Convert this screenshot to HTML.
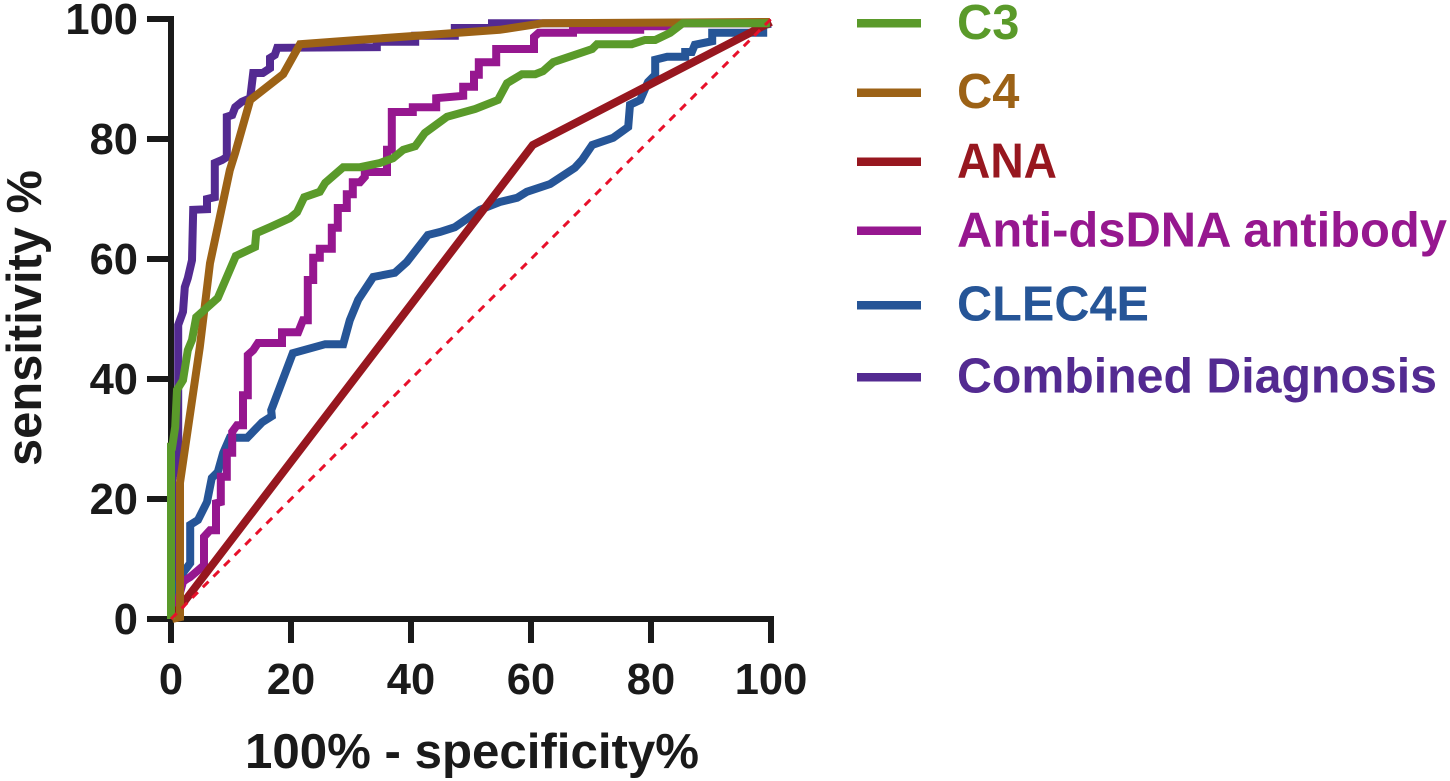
<!DOCTYPE html>
<html lang="en">
<head>
<meta charset="utf-8">
<title>ROC curves</title>
<style>
html,body{margin:0;padding:0;background:#fff;}
svg{display:block;}
text{font-family:"Liberation Sans",Arial,sans-serif;font-weight:bold;}
</style>
</head>
<body>
<svg id="chart" xmlns="http://www.w3.org/2000/svg" width="1450" height="781" viewBox="0 0 1450 781">
  <rect x="0" y="0" width="1450" height="781" fill="#fff"/>
  <g id="axis-layer"></g>
  <g id="series-layer"></g>
  <text x="472" y="768" font-size="49" text-anchor="middle" fill="#1a1a1a" textLength="454" lengthAdjust="spacingAndGlyphs">100% - specificity%</text>
  <text transform="translate(41 318) rotate(-90)" font-size="49" text-anchor="middle" fill="#1a1a1a" textLength="296" lengthAdjust="spacingAndGlyphs">sensitivity %</text>
  <g>
    <g>
      <rect x="857" y="19" width="64" height="8.5" fill="#5a9a2a"/>
      <text x="957" y="39" font-size="48.8" fill="#5a9a2a">C3</text>
    </g>
    <g>
      <rect x="857" y="88.5" width="64" height="8.5" fill="#9c6216"/>
      <text x="957" y="108" font-size="48.8" fill="#9c6216">C4</text>
    </g>
    <g>
      <rect x="857" y="157.5" width="64" height="8.5" fill="#97171f"/>
      <text x="957" y="177.500" font-size="48.8" fill="#97171f" textLength="100" lengthAdjust="spacingAndGlyphs">ANA</text>
    </g>
    <g>
      <rect x="857" y="226.500" width="64" height="8.5" fill="#96178f"/>
      <text x="957" y="246.500" font-size="48.8" fill="#96178f" textLength="490" lengthAdjust="spacingAndGlyphs">Anti-dsDNA antibody</text>
    </g>
    <g>
      <rect x="857" y="301" width="64" height="8.5" fill="#265597"/>
      <text x="957" y="320.500" font-size="48.8" fill="#265597" textLength="192" lengthAdjust="spacingAndGlyphs">CLEC4E</text>
    </g>
    <g>
      <rect x="857" y="373" width="64" height="8.5" fill="#532a91"/>
      <text x="957" y="392.500" font-size="48.8" fill="#532a91" textLength="480" lengthAdjust="spacingAndGlyphs">Combined Diagnosis</text>
    </g>
  </g>
</svg>
<script>
var xTicks = [0, 20, 40, 60, 80, 100];
var yTicks = [0, 20, 40, 60, 80, 100];

var combinedX = [0.2,0.2,1.2,1.2,2,2.3,2.8,3.5,3.7,6,6,7.3,7.3,8.5,9.3,9.3,10.2,10.7,11.8,13.2,13.7,15.3,16.5,16.5,17.3,17.7,34.3,34.3,40.7,40.7,47.3,47.3,53.5,53.5,100];
var combinedY = [0,23.2,27.7,49,51.2,55.3,56.8,59.8,68.2,68.3,70,70.3,76,76.5,77,83.7,84,85.3,86.2,86.8,91,91,91.8,93.5,94,95.2,95.3,96.2,96.2,97.2,97.2,98.5,98.5,99.3,99.3];

var clec4eX = [0.2,0.8,2,3.2,3.2,4.5,6,6.8,7.8,8.7,9.8,12.7,15.2,16.8,16.7,20.3,25.7,28.7,29.8,31.2,33.7,37.3,39.3,42.8,44.8,47.3,51.5,54.8,57.7,59.3,63.2,67.3,68.5,70.2,73.7,76.2,76.5,78.2,79.5,80.7,80.7,82.7,85.7,85.7,86.8,87.3,90.2,90.2,98.7,98.7,100];
var clec4eY = [0,4.8,7.7,9.3,15.7,16.5,19.5,23.5,24.5,27.7,30.2,30.2,32.8,33.8,34.8,44.3,45.8,45.8,49.8,53.2,57,57.7,59.5,64,64.5,65.3,68.2,69.5,70.2,71.2,72.5,75.2,76.5,79,80.2,82,85.7,86.5,89.5,90.7,93.2,93.7,93.7,94.5,94.5,95.7,96.3,97.7,97.7,99,99.2];

var antiDsdnaX = [0.2,1.2,2,2.7,3.2,5.2,5.5,5.5,6.5,7.5,7.5,8.3,8.3,9.3,9.3,10.2,10.2,11,12,12,12.8,12.8,13.7,14.5,18.5,18.5,21.2,22,22.8,22.8,23.7,23.7,24.8,24.8,26.8,26.8,27.8,27.8,29.3,29.3,30.3,30.3,31.5,32.3,32.3,36,36,36.8,36.8,40.3,40.3,44.2,44.2,48.7,48.7,50.5,50.5,51.3,51.3,54.2,54.2,60.5,60.5,61.3,67,67,78.2,78.2,83.7,85.3,100];
var antiDsdnaY = [0,3.2,6.2,6.7,7,8.7,8.7,13.7,14.8,14.8,19.3,19.5,23.7,23.7,27.7,27.7,31.2,32.3,32.3,37.3,37.3,44,44.8,46,46,47.8,47.8,49.8,49.8,56.5,56.5,60.2,60.2,61.7,61.7,65.2,65.2,68.5,68.5,70.8,70.8,72.8,72.8,73.7,74.5,74.5,78.2,78.2,84.5,84.5,85.3,85.3,86.8,87.2,88.7,88.7,90.7,90.7,92.8,92.8,95,95,97,97.7,97.7,98.2,98.2,98.8,98.8,99.3,99.3];

var anaX = [0, 60.3, 100];
var anaY = [0, 79, 99.5];

var c4X = [0.2,1.5,1.5,4.8,6.5,9.8,10.7,13.2,18.7,21.5,31,41,54.8,62,99.8];
var c4Y = [0,0.3,22.7,45.3,59.3,74.8,77.7,86.5,90.8,95.8,96.5,97.2,98.2,99.3,99.5];

var c3X = [0,0,0.2,0.7,1,2,2.8,3.5,4.2,7.8,10.8,14,14.2,16.5,19.8,21,22.2,24.8,25.7,28.7,31.5,34.8,37,38.7,40.7,42.3,46,50.7,54.5,56,58.5,60.7,62,63.7,70.2,71,76.8,79,80.7,83.2,85.3,99.8];
var c3Y = [0,28.7,28.7,32,38.2,39.8,44.8,46.5,50.3,53.5,60.5,62,64.3,65.3,66.8,67.8,70.3,71.2,72.7,75.3,75.3,76,76.8,78.2,78.8,81,83.7,85,86.5,89.3,90.8,90.8,91.3,92.8,95,95.8,95.8,96.5,96.5,97.7,99.3,99.3];

var referenceX = [0, 100];
var referenceY = [0, 100];

var NS = 'http://www.w3.org/2000/svg';
var X0 = 171, Y0 = 619, PLOT_W = 600, PLOT_H = 600, X_MAX = 100, Y_MAX = 100;
function sx(v) { return X0 + v / X_MAX * PLOT_W; }
function sy(v) { return Y0 - v / Y_MAX * PLOT_H; }

var seriesLayer = document.getElementById('series-layer');
var axisLayer = document.getElementById('axis-layer');

function drawCurve(xs, ys, color, name) {
  var pts = [];
  for (var i = 0; i < xs.length; i++) {
    pts.push(sx(xs[i]).toFixed(1) + ',' + sy(ys[i]).toFixed(1));
  }
  var el = document.createElementNS(NS, 'polyline');
  el.setAttribute('points', pts.join(' '));
  el.setAttribute('fill', 'none');
  el.setAttribute('stroke', color);
  el.setAttribute('stroke-width', '8');
  el.setAttribute('stroke-linejoin', 'miter');
  el.setAttribute('stroke-miterlimit', '2');
  
  
  seriesLayer.appendChild(el);
  return el;
}

drawCurve(combinedX, combinedY, '#532a91', 'curve-combined-diagnosis');
drawCurve(clec4eX, clec4eY, '#265597', 'curve-clec4e');
drawCurve(antiDsdnaX, antiDsdnaY, '#96178f', 'curve-anti-dsdna');
drawCurve(anaX, anaY, '#97171f', 'curve-ana');
drawCurve(c4X, c4Y, '#9c6216', 'curve-c4');
drawCurve(c3X, c3Y, '#5a9a2a', 'curve-c3');

var refLine = drawCurve(referenceX, referenceY, '#e8102a', 'reference-diagonal');
refLine.setAttribute('stroke-width', '3');
refLine.setAttribute('stroke-dasharray', '8 7');

function axisLine(x1, y1, x2, y2, name) {
  var l = document.createElementNS(NS, 'line');
  l.setAttribute('x1', x1);
  l.setAttribute('y1', y1);
  l.setAttribute('x2', x2);
  l.setAttribute('y2', y2);
  l.setAttribute('stroke', '#1a1a1a');
  l.setAttribute('stroke-width', '6');
  
  
  axisLayer.appendChild(l);
}

function axisLabel(x, y, anchor, str, name) {
  var t = document.createElementNS(NS, 'text');
  t.setAttribute('x', x);
  t.setAttribute('y', y);
  t.setAttribute('text-anchor', anchor);
  t.setAttribute('font-size', '43.5');
  t.setAttribute('fill', '#1a1a1a');
  
  
  t.textContent = str;
  axisLayer.appendChild(t);
}

axisLine(sx(0), sy(Y_MAX) - 3, sx(0), sy(0) + 3, 'y-axis-line');
axisLine(sx(0) - 3, sy(0), sx(X_MAX) + 3, sy(0), 'x-axis-line');

xTicks.forEach(function (v) {
  axisLine(sx(v), sy(0), sx(v), sy(0) + 24, 'x-tick-' + v);
  axisLabel(sx(v), 694, 'middle', String(v), 'x-tick-label-' + v);
});
yTicks.forEach(function (v) {
  axisLine(sx(0), sy(v), sx(0) - 24, sy(v), 'y-tick-' + v);
  axisLabel(138, sy(v) + 15, 'end', String(v), 'y-tick-label-' + v);
});
</script>
</body>
</html>
